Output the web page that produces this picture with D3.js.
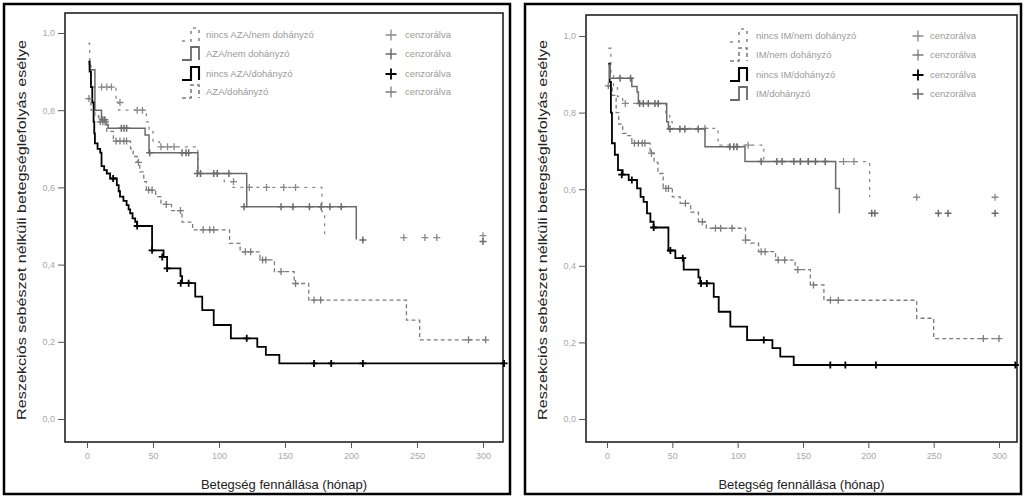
<!DOCTYPE html>
<html>
<head>
<meta charset="utf-8">
<script src="https://cdn.jsdelivr.net/npm/d3@7"></script>
<style>
  body { margin: 0; background: #fff; }
  svg { display: block; font-family: "Liberation Sans", Arial, sans-serif; }
</style>
</head>
<body>
<div id="chart"></div>
<script>
// tick values
const xTicks = [0, 50, 100, 150, 200, 250, 300];
const yTicks = [0, 0.2, 0.4, 0.6, 0.8, 1.0];

const xTitle = 'Betegség fennállása (hónap)';
const yTitle = 'Reszekciós sebészet nélküli betegséglefolyás esélye';
const censorLabel = 'cenzorálva';

// left panel (AZA)
const azaLabels = ['nincs AZA/nem dohányzó', 'AZA/nem dohányzó', 'nincs AZA/dohányzó', 'AZA/dohányzó'];

const azaNincsNemSteps = [[1, 0.973], [2, 0.93], [3, 0.87], [5, 0.86], [22, 0.82], [24, 0.80], [45, 0.77], [47, 0.745],
  [50, 0.718], [55, 0.705], [84, 0.636], [104, 0.615], [110, 0.60], [178, 0.537], [180, 0.47]];
const azaNincsNemCensor = [[11, 0.86], [15, 0.86], [18.5, 0.86], [25, 0.82], [38, 0.80], [42, 0.80], [56, 0.705],
  [61, 0.705], [66, 0.705], [111, 0.615], [123, 0.60], [136, 0.60], [149, 0.60], [158, 0.60], [240, 0.47],
  [256, 0.47], [265, 0.47], [300, 0.475]];

const azaNemSteps = [[1, 0.92], [2, 0.905], [6, 0.80], [11, 0.775], [14, 0.762], [16, 0.753], [44, 0.736], [47, 0.69],
  [84, 0.636], [121, 0.55], [204, 0.465]];
const azaNemCensor = [[12, 0.775], [13.5, 0.775], [26, 0.753], [28, 0.753], [30, 0.753], [47.5, 0.69], [72, 0.69],
  [75, 0.69], [77, 0.69], [83.5, 0.636], [86, 0.636], [96, 0.636], [98.7, 0.636], [107.5, 0.636], [119, 0.55],
  [147, 0.55], [156, 0.55], [168.5, 0.55], [177.4, 0.55], [184, 0.55], [192.6, 0.55], [209, 0.464], [300, 0.46]];

const azaNincsDohSteps = [[1, 0.926], [2, 0.90], [3, 0.86], [4, 0.82], [5, 0.77], [5.5, 0.74], [6, 0.714], [8, 0.70],
  [10, 0.69], [11, 0.655], [13, 0.645], [15, 0.636], [17.5, 0.623], [22.6, 0.606], [24, 0.59], [25, 0.576],
  [27.6, 0.565], [30, 0.554], [31.5, 0.543], [32.7, 0.533], [34.5, 0.52], [36.5, 0.511], [38, 0.50], [49.3, 0.437],
  [58, 0.42], [60.7, 0.39], [70.8, 0.37], [72, 0.352], [82, 0.317], [87.3, 0.282], [96, 0.2435], [109, 0.209],
  [129, 0.187], [135.5, 0.166], [145.7, 0.144], [316, 0.144]];
const azaNincsDohCensor = [[19.8, 0.623], [38, 0.50], [49.3, 0.437], [57, 0.42], [60.7, 0.39], [71, 0.352], [77, 0.352],
  [121, 0.209], [172, 0.144], [185, 0.144], [209, 0.144], [316, 0.144]];

const azaDohSteps = [[0, 0.83], [3, 0.80], [6, 0.785], [9, 0.77], [15, 0.745], [20, 0.72], [33, 0.70], [35, 0.68],
  [38, 0.665], [40, 0.64], [43, 0.615], [45, 0.593], [52, 0.576], [56, 0.556], [64, 0.54], [72, 0.51], [80, 0.49],
  [108, 0.455], [116, 0.433], [131, 0.412], [142, 0.382], [157, 0.351], [168, 0.308], [242, 0.256], [252, 0.205],
  [302, 0.205]];
const azaDohCensor = [[1.5, 0.83], [10, 0.77], [12, 0.77], [14, 0.77], [22, 0.72], [25, 0.72], [28, 0.72], [30, 0.72],
  [39, 0.665], [46.7, 0.593], [49.3, 0.593], [60, 0.556], [70.8, 0.54], [88, 0.49], [93, 0.49], [96, 0.49],
  [120, 0.433], [124, 0.433], [133, 0.412], [135.5, 0.412], [147, 0.382], [158, 0.351], [172, 0.308], [177, 0.308],
  [289, 0.205], [302, 0.205]];

// right panel (IM)
const imLabels = ['nincs IM/nem dohányzó', 'IM/nem dohányzó', 'nincs IM/dohányzó', 'IM/dohányzó'];

const imNincsNemSteps = [[1, 0.968], [3, 0.90], [5, 0.87], [8, 0.842], [12, 0.824], [45, 0.80], [48, 0.776],
  [50, 0.759], [85, 0.715], [120, 0.672], [201, 0.579]];
const imNincsNemCensor = [[14, 0.824], [75, 0.759], [108, 0.715], [181, 0.672], [189, 0.672], [237, 0.579], [297, 0.579]];

const imNemSteps = [[0, 0.87], [4, 0.845], [7, 0.80], [9, 0.77], [12, 0.746], [15, 0.74], [19, 0.72], [33, 0.694],
  [36, 0.67], [39, 0.641], [43, 0.602], [50, 0.58], [56, 0.563], [64, 0.54], [70, 0.515], [76, 0.498], [106, 0.467],
  [110, 0.459], [116, 0.437], [129, 0.415], [144, 0.39], [155.6, 0.35], [166, 0.31], [237, 0.263], [250, 0.21],
  [300, 0.21]];
const imNemCensor = [[1, 0.87], [21, 0.72], [24, 0.72], [27, 0.72], [29, 0.72], [34, 0.694], [45, 0.602], [47, 0.602],
  [60, 0.563], [73, 0.515], [83, 0.498], [87, 0.498], [95.7, 0.498], [106, 0.467], [118, 0.437], [121, 0.437],
  [131, 0.415], [136, 0.415], [146, 0.39], [158, 0.35], [171, 0.31], [177, 0.31], [288, 0.21], [300, 0.21]];

const imNincsDohSteps = [[1, 0.928], [2, 0.88], [3, 0.80], [3.8, 0.72], [6, 0.69], [8.4, 0.65], [12, 0.638],
  [16.6, 0.624], [23, 0.602], [25.7, 0.58], [28, 0.567], [30.6, 0.537], [33.2, 0.515], [35.7, 0.50], [47, 0.44],
  [52.3, 0.42], [58.7, 0.39], [70, 0.37], [71.3, 0.354], [81.7, 0.319], [85.5, 0.28], [94.4, 0.241], [107.2, 0.206],
  [126.6, 0.185], [132.6, 0.163], [142.9, 0.141], [312.5, 0.141]];
const imNincsDohCensor = [[11.3, 0.638], [19, 0.624], [35.7, 0.50], [48.5, 0.44], [58, 0.42], [72, 0.354], [76.4, 0.354],
  [120, 0.206], [170.9, 0.141], [182.4, 0.141], [205.8, 0.141], [312.5, 0.141]];

const imDohSteps = [[1, 0.924], [2, 0.89], [19, 0.868], [23, 0.854], [24, 0.824], [45.7, 0.776], [47, 0.757],
  [75, 0.711], [105.6, 0.672], [175, 0.602], [177.8, 0.537]];
const imDohCensor = [[10, 0.89], [18, 0.89], [25, 0.824], [27.8, 0.824], [31.6, 0.824], [36.7, 0.824], [39.2, 0.824],
  [48.2, 0.757], [55.8, 0.757], [59.6, 0.757], [69.8, 0.757], [94, 0.711], [97, 0.711], [99.5, 0.711], [118, 0.672],
  [130, 0.672], [134, 0.672], [143, 0.672], [148, 0.672], [154, 0.672], [159.5, 0.672], [167, 0.672], [202.6, 0.537],
  [205, 0.537], [253.6, 0.537], [261, 0.537], [297, 0.537]];

// line styles, same order in both panels
const lightDash = { color: '#8a8a8a', width: 1.3, dash: '3,5' };
const graySolid = { color: '#6a6a6a', width: 1.5, dash: null };
const blackSolid = { color: '#000', width: 1.8, dash: null };
const grayDash = { color: '#7c7c7c', width: 1.3, dash: '4,3' };

const panels = [
  {
    border: { x: 4, y: 4, w: 506, h: 490 },
    frame: { x0: 65, y0: 13, x1: 503, y1: 442 },
    xRange: [87, 483], yRange: [419, 33],
    yTitleX: 22,
    legend: { symX: 182, textX: 206, plusX: 391, plusTextX: 405, rows: [35, 54, 74, 92] },
    series: [
      { label: azaLabels[0], steps: azaNincsNemSteps, censor: azaNincsNemCensor, style: lightDash },
      { label: azaLabels[1], steps: azaNemSteps, censor: azaNemCensor, style: graySolid },
      { label: azaLabels[2], steps: azaNincsDohSteps, censor: azaNincsDohCensor, style: blackSolid },
      { label: azaLabels[3], steps: azaDohSteps, censor: azaDohCensor, style: grayDash },
    ],
  },
  {
    border: { x: 525, y: 4, w: 496, h: 490 },
    frame: { x0: 586, y0: 15, x1: 1017, y1: 442 },
    xRange: [607, 999], yRange: [419, 36],
    yTitleX: 543,
    legend: { symX: 730, textX: 756, plusX: 918, plusTextX: 930, rows: [36, 55, 75, 94] },
    series: [
      { label: imLabels[0], steps: imNincsNemSteps, censor: imNincsNemCensor, style: lightDash },
      { label: imLabels[1], steps: imNemSteps, censor: imNemCensor, style: grayDash },
      { label: imLabels[2], steps: imNincsDohSteps, censor: imNincsDohCensor, style: blackSolid },
      { label: imLabels[3], steps: imDohSteps, censor: imDohCensor, style: graySolid },
    ],
  },
];

const svg = d3.select('#chart').append('svg')
  .attr('width', 1024)
  .attr('height', 497);

panels.forEach(p => drawPanel(svg, p));

function drawPanel(svg, p) {
  const x = d3.scaleLinear().domain([0, 300]).range(p.xRange);
  const y = d3.scaleLinear().domain([0, 1]).range(p.yRange);
  const f = p.frame;

  svg.append('rect')
    .attr('x', p.border.x).attr('y', p.border.y)
    .attr('width', p.border.w).attr('height', p.border.h)
    .attr('fill', 'none').attr('stroke', '#000').attr('stroke-width', 2.5);

  svg.append('rect')
    .attr('x', f.x0).attr('y', f.y0)
    .attr('width', f.x1 - f.x0).attr('height', f.y1 - f.y0)
    .attr('fill', 'none').attr('stroke', '#222').attr('stroke-width', 1.6);

  // axes
  const yAxis = svg.append('g')
    .attr('transform', `translate(${f.x0},0)`)
    .call(d3.axisLeft(y).tickValues(yTicks).tickSize(7).tickPadding(3)
      .tickFormat(d => d3.format('.1f')(d).replace('.', ',')));
  const xAxis = svg.append('g')
    .attr('transform', `translate(0,${f.y1})`)
    .call(d3.axisBottom(x).tickValues(xTicks).tickSize(6).tickPadding(5));
  [xAxis, yAxis].forEach(ax => {
    ax.select('.domain').remove();
    ax.selectAll('line').attr('stroke', '#555');
    ax.selectAll('text').attr('fill', '#a8a8a8').attr('font-size', 9);
  });

  svg.append('text')
    .attr('x', (f.x0 + f.x1) / 2).attr('y', 489)
    .attr('text-anchor', 'middle')
    .attr('font-size', 13).attr('fill', '#222')
    .text(xTitle);

  svg.append('text')
    .attr('transform', `translate(${p.yTitleX},230) rotate(-90)`)
    .attr('text-anchor', 'middle').attr('dy', '0.35em')
    .attr('font-size', 12).attr('fill', '#222')
    .attr('textLength', 380).attr('lengthAdjust', 'spacingAndGlyphs')
    .text(yTitle);

  const line = d3.line()
    .x(d => x(d[0]))
    .y(d => y(d[1]))
    .curve(d3.curveStepAfter);

  p.series.forEach(s => {
    svg.append('path')
      .attr('d', line(s.steps))
      .attr('fill', 'none')
      .attr('stroke', s.style.color)
      .attr('stroke-width', s.style.width)
      .attr('stroke-dasharray', s.style.dash);

    svg.append('g').selectAll('path')
      .data(s.censor)
      .enter().append('path')
      .attr('d', d => plus(x(d[0]), y(d[1]), 3.5))
      .attr('stroke', s.style.color)
      .attr('stroke-width', s.style.width);
  });

  drawLegend(svg, p);
}

function drawLegend(svg, p) {
  const lg = p.legend;
  p.series.forEach((s, i) => {
    const cy = lg.rows[i];
    svg.append('path')
      .attr('d', `M${lg.symX},${cy + 6}H${lg.symX + 9}V${cy - 7}H${lg.symX + 17}V${cy + 6}`)
      .attr('fill', 'none')
      .attr('stroke', s.style.color)
      .attr('stroke-width', s.style.width + 0.3)
      .attr('stroke-dasharray', s.style.dash);

    svg.append('text')
      .attr('x', lg.textX).attr('y', cy).attr('dy', '0.35em')
      .attr('font-size', 9.5).attr('fill', '#9a9a9a')
      .text(s.label);

    svg.append('path')
      .attr('d', plus(lg.plusX, cy, 5.5))
      .attr('stroke', s.style.color)
      .attr('stroke-width', s.style.width);

    svg.append('text')
      .attr('x', lg.plusTextX).attr('y', cy).attr('dy', '0.35em')
      .attr('font-size', 9.5).attr('fill', '#9a9a9a')
      .text(censorLabel);
  });
}

function plus(cx, cy, r) {
  return `M${cx - r},${cy}H${cx + r}M${cx},${cy - r}V${cy + r}`;
}
</script>
</body>
</html>
